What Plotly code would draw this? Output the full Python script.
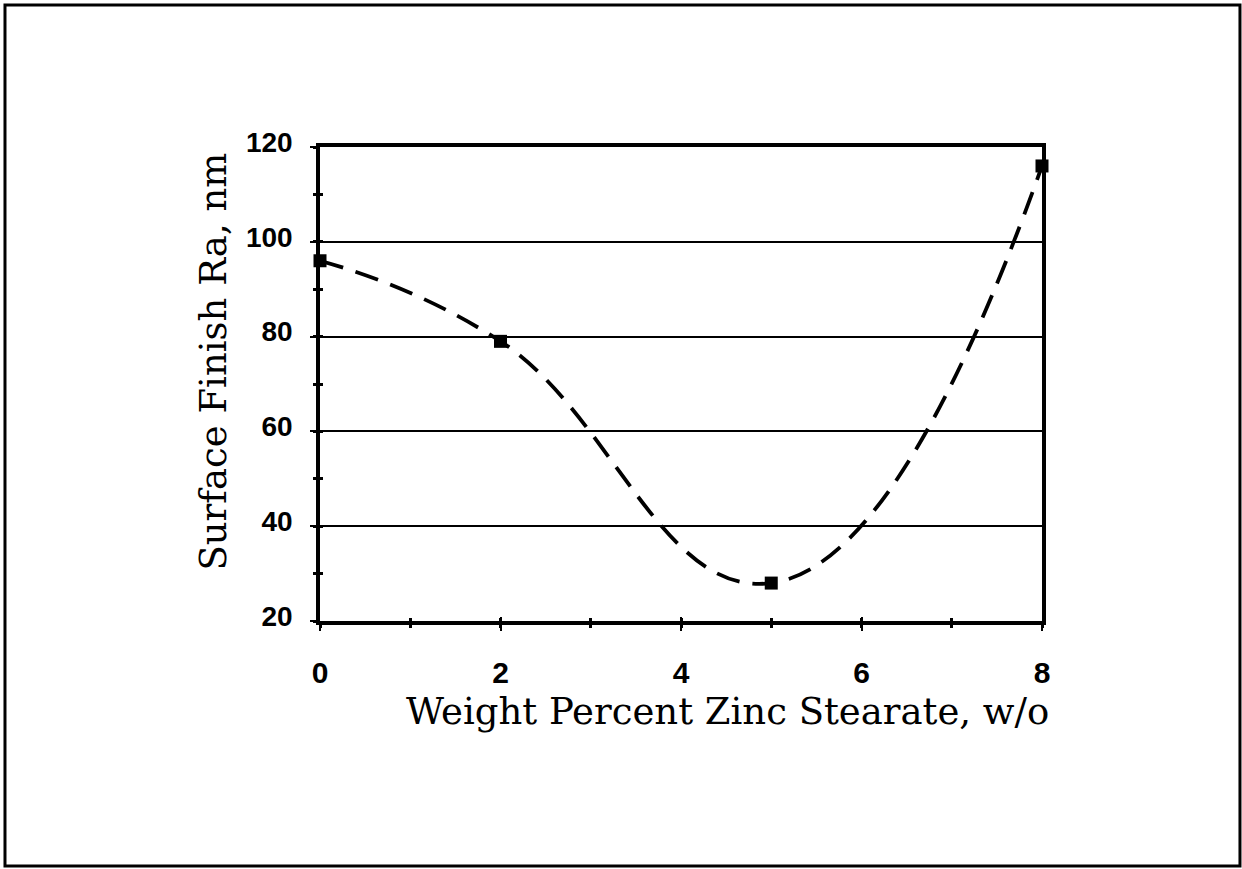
import plotly.graph_objects as go

# Zinc stearate content (w/o) and measured surface finish Ra (nm)
zinc_wt_pct = [0, 2, 5, 8]
surface_ra_nm = [96, 79, 28, 116]

x_ticks = [0, 2, 4, 6, 8]
y_ticks = [20, 40, 60, 80, 100, 120]

fig = go.Figure()

fig.add_trace(go.Scatter(
    x=zinc_wt_pct, y=surface_ra_nm,
    mode="lines+markers",
    line=dict(shape="spline", smoothing=1.3, color="black", width=3.8, dash="24px,13px"),
    marker=dict(symbol="square", size=13, color="black"),
    showlegend=False, cliponaxis=False,
))

tick_font_y = dict(family="Liberation Sans", size=28, color="black", weight="bold")
tick_font_x = dict(family="Liberation Sans", size=30, color="black", weight="bold")

fig.update_xaxes(
    range=[0, 8], tickvals=x_ticks, ticktext=[str(v) for v in x_ticks],
    showgrid=False, zeroline=False,
    showline=True, linecolor="black", linewidth=3.5, mirror=True,
    ticks="outside", ticklen=6, tickwidth=2, tickcolor="black",
    minor=dict(dtick=1, ticks="outside", ticklen=3, tickwidth=3, tickcolor="black"),
    tickfont=tick_font_x, ticklabelstandoff=16,
)
fig.update_yaxes(
    range=[20, 120], tickvals=y_ticks, ticktext=[str(v) for v in y_ticks],
    showgrid=True, gridcolor="black", gridwidth=1.5, zeroline=False,
    showline=True, linecolor="black", linewidth=3.5, mirror=True,
    ticks="outside", ticklen=6, tickwidth=2, tickcolor="black",
    minor=dict(dtick=10, tick0=0, ticks="outside", ticklen=3, tickwidth=3,
               tickcolor="black", showgrid=False),
    tickfont=tick_font_y, ticklabelstandoff=12, ticklabelshift=-5,
)

# Overlay axes carrying the inner half of the crossing tick marks
fig.update_layout(
    xaxis2=dict(overlaying="x", range=[0, 8], tickvals=x_ticks, showticklabels=False,
                ticks="inside", ticklen=4, tickwidth=2, tickcolor="black",
                minor=dict(dtick=1, ticks="inside", ticklen=3, tickwidth=3, tickcolor="black"),
                showgrid=False, zeroline=False, showline=False, side="bottom"),
    yaxis2=dict(overlaying="y", range=[20, 120], tickvals=y_ticks, showticklabels=False,
                ticks="inside", ticklen=4, tickwidth=2, tickcolor="black",
                minor=dict(dtick=10, tick0=0, ticks="inside", ticklen=3, tickwidth=3,
                           tickcolor="black", showgrid=False),
                showgrid=False, zeroline=False, showline=False, side="left"),
)
fig.add_trace(go.Scatter(x=[None], y=[None], xaxis="x2", yaxis="y2",
                         showlegend=False, hoverinfo="skip"))

title_font = dict(family="DejaVu Serif", size=37, color="black")
fig.add_annotation(
    text="Weight Percent Zinc Stearate, w/o", xref="paper", yref="paper",
    x=0.564, y=-0.19, xanchor="center", yanchor="middle", showarrow=False, font=title_font,
)
fig.add_annotation(
    text="Surface Finish Ra, nm", xref="paper", yref="paper",
    x=-0.147, y=0.547, xanchor="center", yanchor="middle", textangle=-90,
    showarrow=False, font=title_font,
)

# Outer frame around the figure
fig.add_shape(type="rect", xref="paper", yref="paper",
              x0=-0.4363, x1=1.2742, y0=-0.5169, y1=1.2996,
              line=dict(color="black", width=3))

fig.update_layout(
    width=1242, height=869,
    margin=dict(l=320, r=200, t=147, b=248),
    paper_bgcolor="white", plot_bgcolor="white",
)

fig.write_html("out.html")
